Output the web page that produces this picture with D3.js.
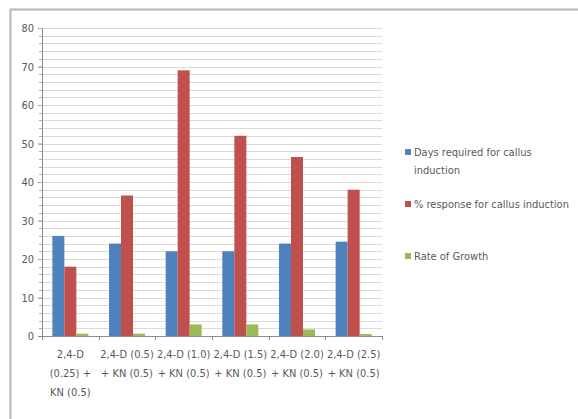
<!DOCTYPE html>
<html>
<head>
<meta charset="utf-8">
<script src="https://cdn.jsdelivr.net/npm/d3@7"></script>
<style>
  body { margin: 0; background: #fff; }
  text { font-family: "Liberation Sans Narrow", "DejaVu Sans Condensed", "Liberation Sans", sans-serif; fill: #595959; }
</style>
</head>
<body>
<svg id="chart" width="578" height="419"></svg>
<script>
// Treatments (2,4-D and KN concentrations)
const categories = [
  ["2,4-D", "(0.25) +", "KN (0.5)"],
  ["2,4-D (0.5)", "+ KN (0.5)"],
  ["2,4-D (1.0)", "+ KN (0.5)"],
  ["2,4-D (1.5)", "+ KN (0.5)"],
  ["2,4-D (2.0)", "+ KN (0.5)"],
  ["2,4-D (2.5)", "+ KN (0.5)"]
];
const seriesNames = ["Days required for callus induction", "% response for callus induction", "Rate of Growth"];
const daysRequired = [26, 24, 22, 22, 24, 24.5];
const percentResponse = [18, 36.5, 69, 52, 46.5, 38];
const rateOfGrowth = [0.6, 0.6, 3, 3, 1.7, 0.5];
const yTicks = [0, 10, 20, 30, 40, 50, 60, 70, 80];
const colors = ["#4F81BD", "#C0504D", "#9BBB59"];

const series = [daysRequired, percentResponse, rateOfGrowth];
const svg = d3.select("#chart");

// outer chart frame
svg.append("path")
  .attr("d", "M10.5,419 V9.5 H578")
  .attr("fill", "none").attr("stroke", "#b5b5b5").attr("stroke-width", 2);

const plot = { left: 42, right: 382, top: 28, bottom: 336 };

const x0 = d3.scaleBand().domain(d3.range(categories.length))
  .range([plot.left, plot.right]).paddingInner(0).paddingOuter(0);
const x1 = d3.scaleBand().domain(d3.range(series.length))
  .range([0, 36]);
const y = d3.scaleLinear().domain([0, 80]).range([plot.bottom, plot.top]);

// gridlines every 2 units
const grid = d3.range(2, 81, 2);
svg.append("g").selectAll("line").data(grid).join("line")
  .attr("x1", plot.left).attr("x2", plot.right)
  .attr("y1", d => Math.round(y(d)) + 0.5).attr("y2", d => Math.round(y(d)) + 0.5)
  .attr("stroke", "#dadada").attr("stroke-width", 1);

// y axis
const yAxis = svg.append("g").attr("transform", `translate(${plot.left},0)`)
  .call(d3.axisLeft(y).tickValues(yTicks).tickSize(4).tickPadding(4));
yAxis.select(".domain").attr("stroke", "#8c8c8c");
yAxis.selectAll(".tick line").attr("stroke", "#8c8c8c");
yAxis.selectAll(".tick text").attr("font-size", 11).attr("fill", "#595959");
// minor ticks
svg.append("g").selectAll("line").data(grid).join("line")
  .attr("x1", plot.left - 3).attr("x2", plot.left)
  .attr("y1", d => Math.round(y(d)) + 0.5).attr("y2", d => Math.round(y(d)) + 0.5)
  .attr("stroke", "#b0b0b0");

// bars
const groups = svg.append("g").selectAll("g").data(categories).join("g")
  .attr("transform", (d, i) => `translate(${x0(i) + (x0.bandwidth() - 36) / 2},0)`);
groups.selectAll("rect").data((d, i) => series.map((s, k) => ({ k, v: s[i] })))
  .join("rect")
  .attr("x", d => x1(d.k))
  .attr("width", x1.bandwidth())
  .attr("y", d => y(d.v))
  .attr("height", d => plot.bottom - y(d.v))
  .attr("fill", d => colors[d.k]);

// x axis
const xAxisG = svg.append("g");
xAxisG.append("line")
  .attr("x1", plot.left).attr("x2", plot.right)
  .attr("y1", plot.bottom + 0.5).attr("y2", plot.bottom + 0.5)
  .attr("stroke", "#8c8c8c");
xAxisG.selectAll("line.tk").data(d3.range(categories.length + 1)).join("line")
  .attr("class", "tk")
  .attr("x1", i => Math.round(plot.left + i * x0.step()) + 0.5)
  .attr("x2", i => Math.round(plot.left + i * x0.step()) + 0.5)
  .attr("y1", plot.bottom).attr("y2", plot.bottom + 4)
  .attr("stroke", "#8c8c8c");

// category labels
const catLabels = svg.append("g").selectAll("text").data(categories).join("text")
  .attr("x", (d, i) => x0(i) + x0.bandwidth() / 2)
  .attr("y", 358)
  .attr("text-anchor", "middle")
  .attr("font-size", 11);
catLabels.selectAll("tspan").data(d => d).join("tspan")
  .attr("x", function () { return this.parentNode.getAttribute("x"); })
  .attr("dy", (d, j) => j === 0 ? 0 : 19)
  .text(d => d);

// legend
const legendRows = [
  { lines: ["Days required for callus", "induction"], y: 153 },
  { lines: ["% response for callus induction"], y: 205 },
  { lines: ["Rate of Growth"], y: 257 }
];
const legend = svg.append("g").selectAll("g").data(legendRows).join("g");
legend.append("rect")
  .attr("x", 405).attr("y", d => d.y - 4)
  .attr("width", 6).attr("height", 6)
  .attr("fill", (d, i) => colors[i]);
legend.append("text")
  .attr("x", 414).attr("y", d => d.y + 3)
  .attr("font-size", 11)
  .selectAll("tspan").data(d => d.lines).join("tspan")
  .attr("x", 414).attr("dy", (d, j) => j === 0 ? 0 : 18)
  .text(d => d);
</script>
</body>
</html>
